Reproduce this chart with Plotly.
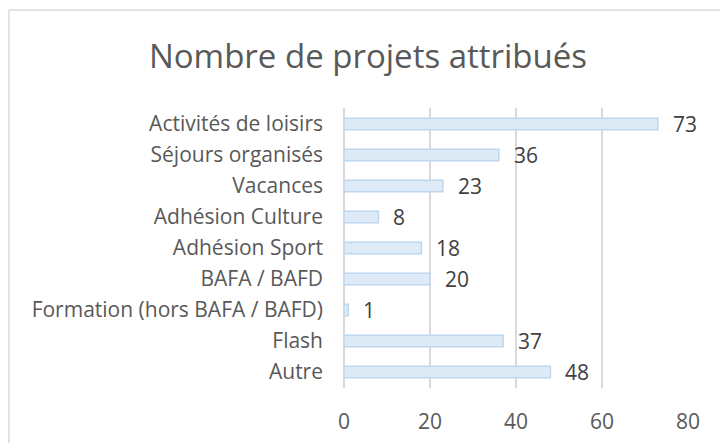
import plotly.graph_objects as go

# Data
categories = ["Activités de loisirs", "Séjours organisés", "Vacances", "Adhésion Culture",
              "Adhésion Sport", "BAFA / BAFD", "Formation (hors BAFA / BAFD)", "Flash", "Autre"]
values = [73, 36, 23, 8, 18, 20, 1, 37, 48]
x_ticks = [0, 20, 40, 60, 80]

TEXT = "#595959"
FONT = "Open Sans"

fig = go.Figure()

# horizontal bars, light blue with a slightly darker outline
fig.add_trace(go.Bar(
    x=values, y=categories, orientation="h",
    marker=dict(color="#DEEBF7", line=dict(color="#BDD7EE", width=1.5)),
    width=0.37, hoverinfo="x+y",
))

# value labels just right of each bar
for cat, val in zip(categories, values):
    fig.add_annotation(x=val, y=cat, text=str(val), showarrow=False,
                       xanchor="left", xshift=13,
                       font=dict(family=FONT, size=21, color="#404040"))

# thin grey frame around the chart (left and top edges visible)
fig.add_shape(type="line", xref="paper", yref="paper", x0=-0.974, x1=1.2, y0=1.35, y1=1.35,
              line=dict(color="#D9D9D9", width=1.5))
fig.add_shape(type="line", xref="paper", yref="paper", x0=-0.974, x1=-0.974, y0=1.35, y1=-0.3,
              line=dict(color="#D9D9D9", width=1.5))

fig.update_layout(
    width=720, height=443,
    margin=dict(l=344, r=32, t=108, b=55),
    paper_bgcolor="white", plot_bgcolor="white",
    title=dict(text="Nombre de projets attribués", x=368 / 720, xanchor="center",
               y=1 - 56 / 443, yanchor="middle",
               font=dict(family=FONT, size=33, color=TEXT)),
    font=dict(family=FONT, color=TEXT),
    showlegend=False,
    bargap=0.63,
)

fig.update_xaxes(range=[0, 80], tickvals=x_ticks, showgrid=True, gridcolor="#D9D9D9",
                 gridwidth=1.5, zeroline=True, zerolinecolor="#D9D9D9", zerolinewidth=1.5,
                 ticklabelstandoff=19, tickfont=dict(size=21, color=TEXT),
                 automargin=False, fixedrange=True)
fig.update_yaxes(categoryorder="array", categoryarray=categories[::-1], showgrid=False,
                 ticklabelstandoff=20, tickfont=dict(size=21, color=TEXT),
                 automargin=False, fixedrange=True)

fig.write_html("out.html", config={"displayModeBar": False},
               post_script="document.body.style.margin='0';")
